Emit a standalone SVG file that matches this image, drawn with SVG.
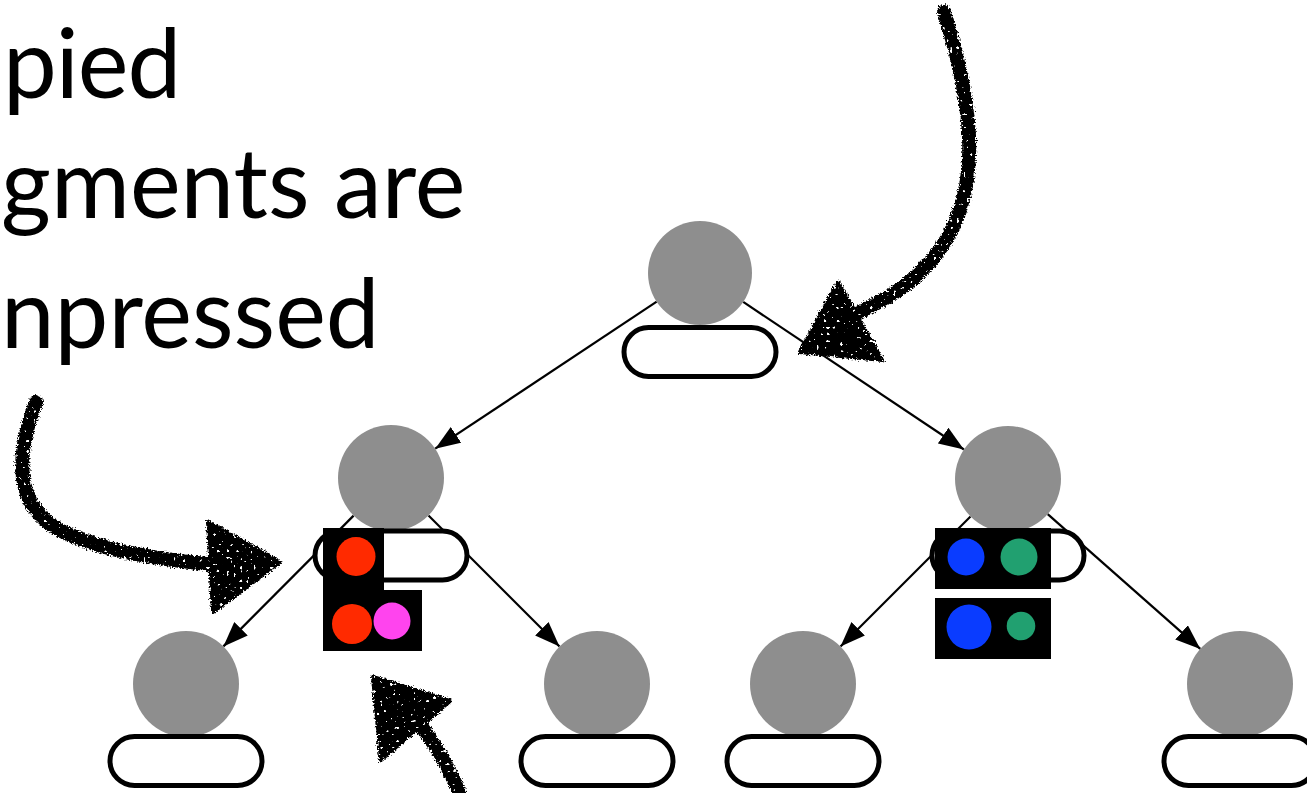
<svg xmlns="http://www.w3.org/2000/svg" width="1307" height="793" viewBox="0 0 1307 793">
  <style>
    .title { font-family: Lato, "Open Sans", "Liberation Sans", sans-serif; font-size: 96px; fill: #000; }
    .ball { fill: #8e8e8e; }
    .pill { fill: #fff; stroke: #000; stroke-width: 5; }
    .edge { stroke: #000; stroke-width: 2.2; fill: none; marker-end: url(#head); }
    .frag { fill: #000; }
    .chalk { fill: none; stroke: #000; stroke-width: 14; stroke-linecap: round; }
    .red { fill: #ff2a00; }
    .pink { fill: #ff44ee; }
    .blue { fill: #0a3cff; }
    .green { fill: #21a070; }
  </style>
  <defs>
    <marker id="head" markerUnits="userSpaceOnUse" markerWidth="25" markerHeight="19" refX="25" refY="9.5" orient="auto">
      <path d="M0,0 L25,9.5 L0,19 z" fill="#000"/>
    </marker>
    <!-- rough charcoal look for the hand-drawn pointers -->
    <filter id="rough" x="-15%" y="-15%" width="130%" height="130%">
      <feTurbulence type="fractalNoise" baseFrequency="0.6" numOctaves="2" seed="3" result="n"/>
      <feDisplacementMap in="SourceGraphic" in2="n" scale="6" xChannelSelector="R" yChannelSelector="G" result="d"/>
      <feTurbulence type="fractalNoise" baseFrequency="0.3" numOctaves="1" seed="11" result="n2"/>
      <feColorMatrix in="n2" type="matrix" values="0 0 0 0 1  0 0 0 0 1  0 0 0 0 1  25 0 0 0 -17" result="holes"/>
      <feComposite in="d" in2="holes" operator="out"/>
    </filter>
  </defs>

  <rect width="1307" height="793" fill="#fff"/>

  <!-- heading at the left edge -->
  <g id="heading">
    <text class="title" x="3" y="98" font-size="90" letter-spacing="-1">pied</text>
    <text class="title" x="1" y="218">gments are</text>
    <text class="title" x="1" y="348">npressed</text>
  </g>

  <!-- tree edges -->
  <g id="edges">
    <line class="edge" x1="656.7" y1="301.7" x2="435.2" y2="448.7"/>
    <line class="edge" x1="743.2" y1="301.9" x2="963.9" y2="449.5"/>
    <line class="edge" x1="353.6" y1="515.6" x2="223.4" y2="646.4"/>
    <line class="edge" x1="428.5" y1="515.5" x2="559.5" y2="646.5"/>
    <line class="edge" x1="970.5" y1="516.5" x2="840.5" y2="646.5"/>
    <line class="edge" x1="1047.7" y1="514.1" x2="1200.3" y2="648.9"/>
  </g>

  <!-- tree nodes: grey ball with a slot below -->
  <g id="root">
    <circle class="ball" cx="700" cy="273" r="52"/>
    <rect class="pill" x="624" y="327.5" width="152" height="49" rx="24.5"/>
  </g>
  <g id="left">
    <circle class="ball" cx="391" cy="478" r="53"/>
    <rect class="pill" x="315" y="531" width="152" height="49" rx="24.5"/>
  </g>
  <g id="right">
    <circle class="ball" cx="1008" cy="479" r="53"/>
    <rect class="pill" x="932" y="531" width="152" height="49" rx="24.5"/>
  </g>
  <g id="leaf1">
    <circle class="ball" cx="186" cy="684" r="53"/>
    <rect class="pill" x="110" y="736.5" width="152" height="49" rx="24.5"/>
  </g>
  <g id="leaf2">
    <circle class="ball" cx="597" cy="684" r="53"/>
    <rect class="pill" x="521" y="736.5" width="152" height="49" rx="24.5"/>
  </g>
  <g id="leaf3">
    <circle class="ball" cx="803" cy="684" r="53"/>
    <rect class="pill" x="727" y="736.5" width="152" height="49" rx="24.5"/>
  </g>
  <g id="leaf4">
    <circle class="ball" cx="1240" cy="684" r="53"/>
    <rect class="pill" x="1164" y="736.5" width="152" height="49" rx="24.5"/>
  </g>

  <!-- fragment blocks on the left child -->
  <g id="left-fragments">
    <rect class="frag" x="323" y="528" width="61" height="62"/>
    <circle class="red" cx="356" cy="556.5" r="19.5"/>
    <rect class="frag" x="323" y="590" width="99" height="61"/>
    <circle class="red" cx="352" cy="624" r="20"/>
    <circle class="pink" cx="392" cy="621" r="18.5"/>
  </g>

  <!-- fragment blocks on the right child -->
  <g id="right-fragments">
    <rect class="frag" x="935" y="528" width="116" height="61"/>
    <circle class="blue" cx="966" cy="557" r="18.5"/>
    <circle class="green" cx="1019" cy="557" r="18.5"/>
    <rect class="frag" x="935" y="598" width="116" height="61"/>
    <circle class="blue" cx="969" cy="627" r="22.5"/>
    <circle class="green" cx="1021" cy="626" r="14.3"/>
  </g>

  <!-- hand-drawn pointers -->
  <g id="pointers" filter="url(#rough)">
    <g id="pointer-top">
      <path class="chalk" d="M944 12 C975 110 985 200 930 262 C905 290 880 302 856 314"/>
      <path d="M838 282 L800 352 L882 360 z" fill="#000" stroke="#000" stroke-width="4" stroke-linejoin="round"/>
    </g>
    <g id="pointer-left">
      <path class="chalk" d="M36 402 C14 460 14 512 70 535 C110 552 160 560 218 565"/>
      <path d="M208 522 L280 562 L213 612 z" fill="#000" stroke="#000" stroke-width="4" stroke-linejoin="round"/>
    </g>
    <g id="pointer-bottom">
      <path class="chalk" d="M462 800 C452 772 438 748 418 722"/>
      <path d="M373 677 L450 701 L381 760 z" fill="#000" stroke="#000" stroke-width="4" stroke-linejoin="round"/>
    </g>
  </g>
</svg>
